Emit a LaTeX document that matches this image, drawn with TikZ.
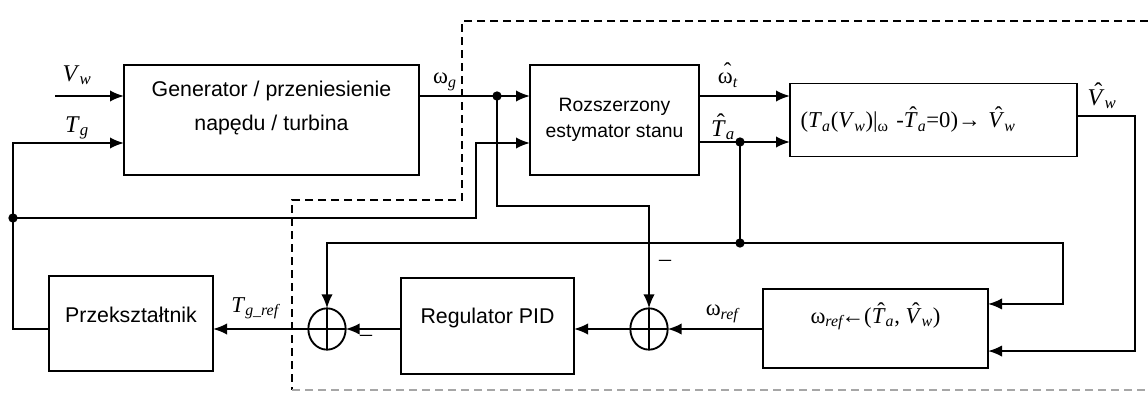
\documentclass[tikz,border=0pt]{standalone}
\usepackage{fontspec}
\setmainfont{Liberation Sans}
\newfontfamily\tms{Liberation Serif}
\usetikzlibrary{positioning,arrows.meta,shapes.geometric}

% daszek nad symbolem
\newcommand{\kap}[1]{\setbox0=\hbox{#1}\rlap{\hbox to\wd0{\hss\kern.2em\raisebox{.22em}{ˆ}\hss}}\box0}

\begin{document}
\begin{tikzpicture}[
        x=0.75pt, y=-0.75pt,
        line width=1.4pt,
        >={Latex[length=10.5pt,width=8.5pt]},
        blok/.style={draw, inner sep=0pt, outer sep=0pt, font=\fontsize{16}{25}\selectfont},
        suma/.style={draw, ellipse, minimum width=28pt, minimum height=31pt, inner sep=0pt, outer sep=0pt},
        pkt/.style={circle, fill, inner sep=0pt, minimum size=7pt},
        syg/.style={font=\tms\fontsize{18}{20}\selectfont, inner sep=1pt},
        syg2/.style={font=\tms\fontsize{17}{18}\selectfont, inner sep=1pt},
        ramka/.style={dash pattern=on 6pt off 3.75pt, line width=1pt}
    ]
        \useasboundingbox (0,0) rectangle (1148,396);

        \node[blok, minimum width=221.25pt, minimum height=82.5pt, align=center, text height=22pt, text depth=7pt] (gen) at (271.5,120) {Generator / przeniesienie\\napędu / turbina};
        \node[blok, font=\fontsize{14.5}{20}\selectfont, minimum width=126.75pt, minimum height=82.5pt, align=center, right=83.25pt of gen] (est) {Rozszerzony\\estymator stanu};
        \node[blok, font=\tms\fontsize{17}{20}\selectfont, minimum height=54.75pt, inner xsep=8pt, text width=199.25pt, align=left, right=68.25pt of est] (vest) {(\textit{T}\textsubscript{\textit{a}}(\textit{V}\textsubscript{\textit{w}})|\textsubscript{ω} -\kap{\textit{T}}\textsubscript{\textit{a}}=0)→ \kap{\textit{V}}\textsubscript{\textit{w}}};

        \node[blok, minimum width=123pt, minimum height=71.25pt, text height=12pt, text depth=13.4pt] (conv) at (131,323.5) {Przekształtnik};
        \node[blok, minimum width=129.75pt, minimum height=72pt, text height=12pt, text depth=15.6pt] (pid) at (487.5,326) {Regulator PID};
        \node[blok, font=\tms\fontsize{17}{20}\selectfont, minimum width=168.75pt, minimum height=59.25pt, text height=12pt, text depth=19.6pt] (wref) at (875.5,328.5) {ω\textsubscript{\textit{ref}}\kern-.15em←(\kap{\textit{T}}\textsubscript{\textit{a}}, \kap{\textit{V}}\textsubscript{\textit{w}})};

        \node[suma] (s1) at (327,329) {};
        \node[suma] (s2) at (649,329) {};
        \foreach \s in {s1,s2}
            \draw (\s.north) -- (\s.south) (\s.west) -- (\s.east);

        \coordinate (vin) at (55,96);
        \coordinate (jT) at (13,218);
        \coordinate (wg) at (497,96);
        \coordinate (ja) at (740,142);
        \coordinate (jb) at (740,243);

        % gorny tor
        \draw[->] (vin) -- (vin -| gen.west);
        \draw[->] (conv.west |- s1) -| (jT) |- ([yshift=-17.25pt]gen.west);
        \draw[->] (jT) -| ([xshift=-40.5pt,yshift=-17.25pt]est.west) -- ([yshift=-17.25pt]est.west);
        \draw[->] ([yshift=18pt]gen.east) -- ([yshift=18pt]est.west);
        \draw[->] (wg) |- (s2 |- 0,206) -- (s2.north);
        \draw[->] ([yshift=18pt]est.east) -- ([yshift=18pt]vest.west);
        \draw[->] ([yshift=-16.5pt]est.east) -- ([yshift=-16.5pt]vest.west);
        \draw (ja) -- (jb);
        \draw[->] (jb) -| (s1.north);
        \draw[->] (jb) -| ([xshift=56.25pt,yshift=18.4pt]wref.east) -- ([yshift=18.4pt]wref.east);
        \draw[->] ([yshift=3pt]vest.east) -| ([xshift=110.25pt,yshift=-16.9pt]wref.east) -- ([yshift=-16.9pt]wref.east);

        % dolny tor
        \draw[->] (wref.west |- s2) -- (s2.east);
        \draw[->] (s2.west) -- (s2 -| pid.east);
        \draw[->] (pid.west |- s1) -- (s1.east);
        \draw[->] (s1.west) -- (s1 -| conv.east);

        \foreach \p in {jT,wg,ja,jb}
            \node[pkt] (d\p) at (\p) {};

        % granica
        \draw[ramka] (1148,21) -- (462,21) -- (462,200) -- (292,200) -- (292,390);
        \draw[ramka, gray!70] (292,390) -- (1148,390);

        % opisy
        \node[syg] (lVw) at (77,75) {\textit{V}\textsubscript{\textit{w}}};
        \node[syg] (lTg) at (77,128) {\textit{T}\textsubscript{\textit{g}}};
        \node[syg2] (lwg) at (445,82) {ω\textsubscript{\textit{g}}};
        \node[syg2] (lwt) at (728,75) {\kap{ω}\textsubscript{\textit{t}}};
        \node[syg] (lTa) at (723,127) {\kap{\textit{T}}\textsubscript{\textit{a}}};
        \node[syg] (lVh) at (1102,96) {\kap{\textit{V}}\textsubscript{\textit{w}}};
        \node[syg2] (lTr) at (256,308) {\textit{T}\textsubscript{\textit{g\_ref}}};
        \node[syg2] (lwr) at (723,314) {ω\textsubscript{\textit{ref}}};
        \node[syg] (lm1) at (665,263) {–};
        \node[syg] (lm2) at (366,338) {–};
    \end{tikzpicture}
\end{document}
